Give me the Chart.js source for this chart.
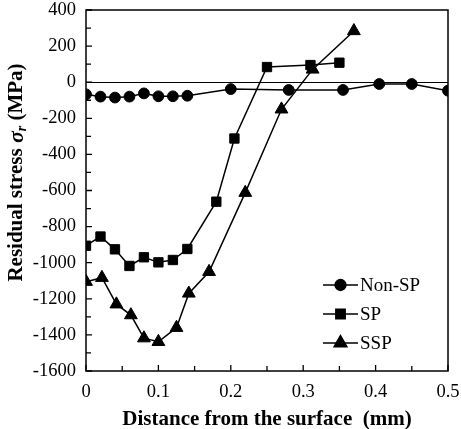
<!DOCTYPE html>
<html>
<head>
<meta charset="utf-8">
<script src="https://cdn.jsdelivr.net/npm/chart.js@4.4.0/dist/chart.umd.min.js"></script>
<style>
  html, body { margin: 0; padding: 0; background: #fff; }
  #wrap { width: 461px; height: 429px; }
</style>
</head>
<body>
<div id="wrap"><canvas id="stressChart" width="461" height="429"></canvas></div>
<script>
// depth (mm) and residual stress (MPa)
const nonSpDepth = [0, 0.02, 0.04, 0.06, 0.08, 0.10, 0.12, 0.14, 0.20, 0.28, 0.355, 0.405, 0.45, 0.50];
const nonSpStress = [-67, -80, -85, -80, -62, -78, -78, -75, -38, -43, -43, -10, -10, -47];
const spDepth = [0, 0.02, 0.04, 0.06, 0.08, 0.10, 0.12, 0.14, 0.18, 0.205, 0.25, 0.31, 0.35];
const spStress = [-906, -855, -926, -1018, -970, -998, -985, -924, -662, -312, 84, 95, 108];
const sspDepth = [0, 0.022, 0.042, 0.062, 0.08, 0.10, 0.125, 0.142, 0.17, 0.22, 0.27, 0.313, 0.37];
const sspStress = [-1105, -1083, -1230, -1290, -1418, -1438, -1360, -1170, -1050, -612, -150, 71, 284];
const seriesNames = ["Non-SP", "SP", "SSP"];

const FONT = "'Liberation Serif', 'Times New Roman', serif";

const toPoints = (xs, ys) => xs.map((x, i) => ({ x: x, y: ys[i] }));

// box, inward ticks, zero line, y title and legend
const framePlugin = {
    id: "frame",
    afterDraw(chart) {
        const ctx = chart.ctx;
        const a = chart.chartArea;
        const xs = chart.scales.x, ys = chart.scales.y;
        ctx.save();
        ctx.strokeStyle = "#000";

        // zero line
        ctx.lineWidth = 1;
        const y0 = Math.round(ys.getPixelForValue(0)) + 0.5;
        ctx.beginPath(); ctx.moveTo(a.left, y0); ctx.lineTo(a.right, y0); ctx.stroke();

        // frame
        ctx.lineWidth = 1.5;
        ctx.strokeRect(a.left, a.top, a.right - a.left, a.bottom - a.top);

        // ticks pointing inward (major + minor)
        ctx.lineWidth = 1.3;
        ctx.beginPath();
        for (let v = 0; v <= 0.5001; v += 0.05) {
            const px = xs.getPixelForValue(v);
            const len = Math.abs(v * 10 - Math.round(v * 10)) < 1e-6 ? 6 : 5;
            ctx.moveTo(px, a.bottom); ctx.lineTo(px, a.bottom - len);
        }
        for (let v = -1600; v <= 400; v += 100) {
            const py = ys.getPixelForValue(v);
            const len = v % 200 === 0 ? 6 : 5;
            ctx.moveTo(a.left, py); ctx.lineTo(a.left + len, py);
        }
        ctx.stroke();

        // y axis title with sigma_r
        ctx.save();
        ctx.translate(17, 172.5);
        ctx.rotate(-Math.PI / 2);
        ctx.fillStyle = "#000";
        ctx.textBaseline = "middle";
        const parts = [
            { t: "Residual stress ", f: "bold 21px " + FONT, dy: 0 },
            { t: "σ", f: "italic bold 22px " + FONT, dy: 0 },
            { t: "r", f: "italic bold 14px " + FONT, dy: 5 },
            { t: " (MPa)", f: "bold 21px " + FONT, dy: 0 }
        ];
        let total = 0;
        parts.forEach(p => { ctx.font = p.f; p.w = ctx.measureText(p.t).width; total += p.w; });
        let cx = -total / 2;
        parts.forEach(p => {
            ctx.font = p.f;
            ctx.fillText(p.t, cx, p.dy);
            cx += p.w;
        });
        ctx.restore();

        // legend with line through marker
        ctx.font = "19px " + FONT;
        ctx.fillStyle = "#000";
        ctx.textBaseline = "middle";
        chart.data.datasets.forEach((ds, i) => {
            const ly = a.bottom - 86 + i * 29;
            const lx = a.left + 237;
            ctx.lineWidth = 1.5;
            ctx.beginPath(); ctx.moveTo(lx, ly); ctx.lineTo(lx + 35, ly); ctx.stroke();
            Chart.helpers.drawPoint(ctx, {
                pointStyle: ds.pointStyle, radius: ds.pointRadius, rotation: 0, borderWidth: 1
            }, lx + 17.5, ly);
            ctx.fill();
            ctx.fillText(ds.label, lx + 37, ly + 1);
        });
        ctx.restore();
    }
};

const mkSet = (label, xs, ys, style, r) => ({
    label: label,
    data: toPoints(xs, ys),
    showLine: true,
    borderColor: "#000",
    backgroundColor: "#000",
    borderWidth: 1.5,
    pointStyle: style,
    pointRadius: r,
    pointBorderWidth: 1,
    pointBackgroundColor: "#000",
    pointBorderColor: "#000"
});

const ctx = document.getElementById("stressChart").getContext("2d");
new Chart(ctx, {
    type: "scatter",
    data: {
        datasets: [
            mkSet(seriesNames[0], nonSpDepth, nonSpStress, "circle", 5.4),
            mkSet(seriesNames[1], spDepth, spStress, "rect", 6.6),
            mkSet(seriesNames[2], sspDepth, sspStress, "triangle", 7.4)
        ]
    },
    options: {
        responsive: false,
        animation: false,
        layout: { padding: { top: 10, right: 13, left: 0, bottom: 0 } },
        plugins: { legend: { display: false }, tooltip: { enabled: false } },
        scales: {
            x: {
                type: "linear", min: 0, max: 0.5,
                grid: { display: false, drawTicks: false },
                border: { display: false },
                ticks: { stepSize: 0.1, color: "#000", font: { family: FONT, size: 18.5 }, padding: 10, maxRotation: 0 },
                title: {
                    display: true, text: "Distance from the surface  (mm)", color: "#000",
                    font: { family: FONT, size: 21, weight: "bold" }, padding: { top: 0, bottom: -3 }
                },
                afterFit: (s) => { s.height = 58; s.paddingLeft = 0; s.paddingRight = 0; }
            },
            y: {
                type: "linear", min: -1600, max: 400,
                grid: { display: false, drawTicks: false },
                border: { display: false },
                ticks: {
                    stepSize: 200, color: "#000", font: { family: FONT, size: 18.5 }, padding: 10,
                    callback: (v) => String(v)
                },
                afterFit: (s) => { s.width = 86; s.paddingTop = 0; s.paddingBottom = 0; }
            }
        }
    },
    plugins: [framePlugin]
});
</script>
</body>
</html>
